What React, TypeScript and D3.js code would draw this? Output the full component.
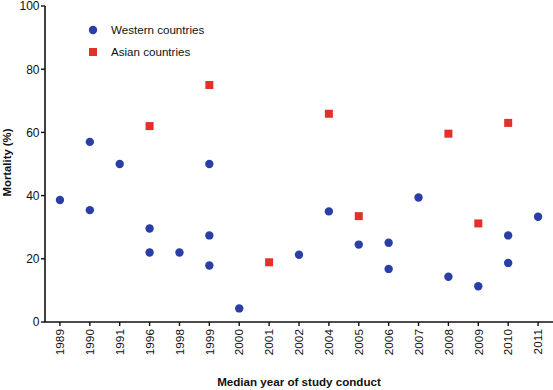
import React from "react";
import { scaleBand, scaleLinear } from "d3";

const width = 553;
const height = 390;

const years = ["1989", "1990", "1991", "1996", "1998", "1999", "2000", "2001", "2002", "2004", "2005", "2006", "2007", "2008", "2009", "2010", "2011"];

// Western countries: [year, mortality %]
const westernYears = ["1989", "1990", "1990", "1991", "1996", "1996", "1998", "1999", "1999", "1999", "2000", "2002", "2004", "2005", "2006", "2006", "2007", "2008", "2009", "2010", "2010", "2011"];
const westernValues = [38.6, 57, 35.4, 50, 29.6, 22, 22, 50, 27.4, 17.9, 4.3, 21.3, 35, 24.5, 25.1, 16.8, 39.4, 14.3, 11.3, 27.4, 18.7, 33.3];

// Asian countries
const asianYears = ["1996", "1999", "2001", "2004", "2005", "2008", "2009", "2010"];
const asianValues = [62, 75, 18.9, 65.9, 33.5, 59.6, 31.2, 63];

const yTicks = [0, 20, 40, 60, 80, 100];

const left = 45;
const right = 553;
const top = 6;
const bottom = 322;

const blue = "#2a3fa6";
const red = "#e4302a";
const font = "'Liberation Sans', Arial, sans-serif";

export default function App() {
  const x = scaleBand<string>().domain(years).range([left, right]);
  const y = scaleLinear().domain([0, 100]).range([bottom, top]);
  const cx = (yr: string) => (x(yr) ?? 0) + x.bandwidth() / 2;

  return (
    <svg
      width={width}
      height={height}
      style={{ position: "absolute", left: 0, top: 0, background: "white" }}
      fontFamily={font}
    >
      {/* y axis */}
      <line x1={left} x2={left} y1={top} y2={bottom} stroke="#111" strokeWidth={1.6} />
      {yTicks.map((t) => (
        <g key={t}>
          <line x1={left - 4} x2={left} y1={y(t)} y2={y(t)} stroke="#111" strokeWidth={1.4} />
          <text x={left - 5.5} y={y(t)} dy="0.36em" textAnchor="end" fontSize={12} fill="#111">
            {t}
          </text>
        </g>
      ))}
      {/* x axis */}
      <line x1={left - 0.8} x2={right} y1={bottom} y2={bottom} stroke="#111" strokeWidth={1.6} />
      {years.map((yr) => (
        <g key={yr}>
          <line x1={cx(yr)} x2={cx(yr)} y1={bottom} y2={bottom + 4} stroke="#111" strokeWidth={1.4} />
          <text
            transform={`translate(${cx(yr)},${bottom + 7}) rotate(-90)`}
            dy="0.36em"
            textAnchor="end"
            fontSize={11.8}
            fill="#111"
          >
            {yr}
          </text>
        </g>
      ))}

      {/* points */}
      {westernValues.map((v, i) => (
        <circle key={"w" + i} cx={cx(westernYears[i])} cy={y(v)} r={4.2} fill={blue} />
      ))}
      {asianValues.map((v, i) => (
        <rect key={"a" + i} x={cx(asianYears[i]) - 4} y={y(v) - 4} width={8} height={8} fill={red} />
      ))}

      {/* legend */}
      <circle cx={93} cy={30} r={4.2} fill={blue} />
      <text x={111} y={30} dy="0.36em" fontSize={11.6} fill="#111">Western countries</text>
      <rect x={89} y={48} width={8} height={8} fill={red} />
      <text x={111} y={52} dy="0.36em" fontSize={11.6} fill="#111">Asian countries</text>

      {/* axis titles */}
      <text
        transform={`translate(10.5,162.5) rotate(-90)`}
        textAnchor="middle"
        fontSize={11.3}
        fontWeight="bold"
        fill="#111"
      >
        Mortality (%)
      </text>
      <text x={299} y={386} textAnchor="middle" fontSize={11.6} fontWeight="bold" fill="#111">
        Median year of study conduct
      </text>
    </svg>
  );
}
